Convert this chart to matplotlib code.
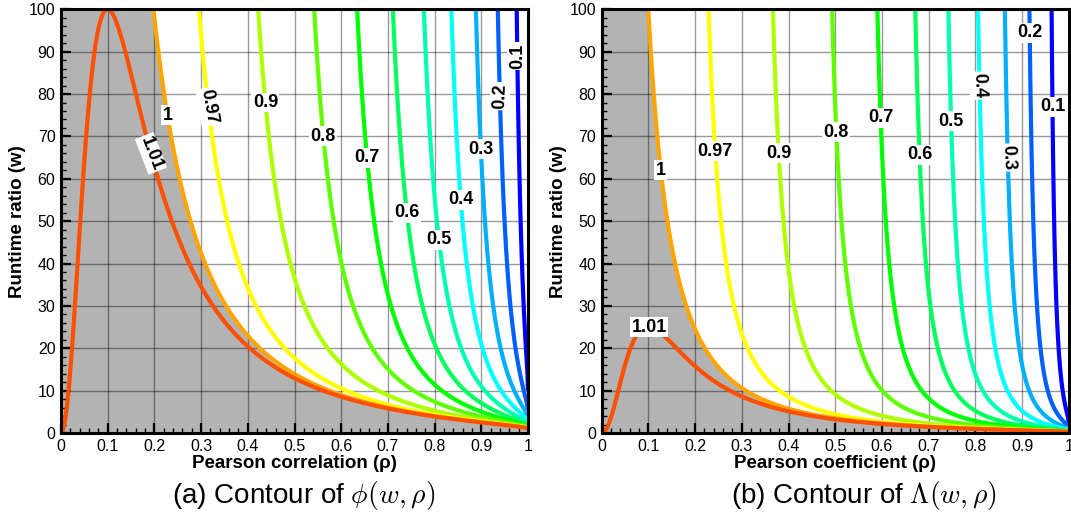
import numpy as np
import matplotlib
matplotlib.use("Agg")
import matplotlib.pyplot as plt
from matplotlib.ticker import MultipleLocator, FuncFormatter

plt.rcParams['font.family'] = ['Liberation Sans', 'DejaVu Sans']
plt.rcParams['mathtext.fontset'] = 'cm'

# contour levels and their colours
levels = [0.1, 0.2, 0.3, 0.4, 0.5, 0.6, 0.7, 0.8, 0.9, 0.97, 1.0, 1.01]
level_colors = ['#0000ff', '#0060ff', '#00b0ff', '#00ffff', '#00ffb0', '#00ff60',
                '#00ff00', '#60ff00', '#b0ff00', '#ffff00', '#ffa500', '#ff5000']

rho_lim = (0.0, 1.0)
w_lim = (0.0, 100.0)

# label anchors: level -> (approx rho, w, rotation)
labels_a = {1.01: (0.194, 66, -69), 1.0: (0.225, 75, 0), 0.97: (0.315, 77, -80),
            0.9: (0.44, 78, 0), 0.8: (0.565, 70, 0), 0.7: (0.656, 65, 0),
            0.6: (0.737, 52, 0), 0.5: (0.805, 45.6, 0), 0.4: (0.86, 55, 0),
            0.3: (0.903, 67, 0), 0.2: (0.94, 79.5, 88), 0.1: (0.972, 89, 90)}
labels_b = {1.01: (0.102, 25, 0), 1.0: (0.132, 62, 0), 0.97: (0.242, 66.5, 0),
            0.9: (0.377, 66, 0), 0.8: (0.5, 71, 0), 0.7: (0.591, 74.4, 0),
            0.6: (0.68, 65.7, 0), 0.5: (0.746, 73.6, 0), 0.4: (0.806, 82, -88),
            0.3: (0.865, 65, -88), 0.2: (0.915, 94.5, 0), 0.1: (0.96, 77, 0)}


def phi(w, rho):
    return (np.sqrt(1 - rho**2) + rho / np.sqrt(w))**2


def lam(w, rho):
    return (np.sqrt(1 - rho**2) + rho / (2 * np.sqrt(w)))**2


rho = np.linspace(rho_lim[0], rho_lim[1], 1001)
w = np.concatenate([np.geomspace(1e-3, 5, 500, endpoint=False), np.linspace(5, w_lim[1], 800)])
R, W = np.meshgrid(rho, w)


def on_contour(func, level, r0, w0):
    # rho on the contour line at height w0, nearest to r0
    rr = np.linspace(0, 1, 20001)
    d = func(w0, rr) - level
    idx = np.where(np.sign(d[:-1]) != np.sign(d[1:]))[0]
    if len(idx) == 0:
        return r0, w0
    best = idx[np.argmin(np.abs(rr[idx] - r0))]
    return rr[best], w0


def draw_panel(ax, func, label_pos, xlabel):
    Z = func(W, R)
    ax.set_xlim(*rho_lim)
    ax.set_ylim(*w_lim)
    ax.contourf(R, W, Z, levels=[1.0, 1e9], colors=['#b3b3b3'], zorder=0.5)
    ax.contour(R, W, Z, levels=levels, colors=level_colors, linewidths=3.0, zorder=2)
    for lv in levels:
        r0, w0, rot = label_pos[lv]
        x, y = on_contour(func, lv, r0, w0)
        ax.text(x, y, f"{lv:g}", fontsize=13, fontweight='bold', color='black',
                ha='center', va='center', rotation=rot, rotation_mode='anchor', zorder=5,
                bbox=dict(boxstyle='square,pad=0.08', fc='white', ec='none'))

    ax.xaxis.set_major_locator(MultipleLocator(0.1))
    ax.xaxis.set_minor_locator(MultipleLocator(0.02))
    ax.yaxis.set_major_locator(MultipleLocator(10))
    ax.yaxis.set_minor_locator(MultipleLocator(2))
    ax.xaxis.set_major_formatter(FuncFormatter(lambda v, p: f"{v:g}"))
    ax.tick_params(which='major', direction='in', length=7, width=1.6, labelsize=11.5, pad=4)
    ax.tick_params(which='minor', direction='in', length=3.5, width=1.0)
    ax.grid(which='major', color='black', alpha=0.4, lw=1.0)
    for sp in ax.spines.values():
        sp.set_linewidth(2.2)
    ax.set_xlabel(xlabel, fontsize=13.5, fontweight='bold', labelpad=1)
    ax.set_ylabel('Runtime ratio (w)', fontsize=13.5, fontweight='bold', labelpad=2)


fig = plt.figure(figsize=(10.71, 5.20), dpi=100)
ax1 = fig.add_axes([61 / 1071, 1 - 433 / 520, 467 / 1071, 423.7 / 520])
ax2 = fig.add_axes([601.7 / 1071, 1 - 433 / 520, 467 / 1071, 423.7 / 520])

draw_panel(ax1, phi, labels_a, 'Pearson correlation (ρ)')
draw_panel(ax2, lam, labels_b, 'Pearson coefficient (ρ)')

fig.text(0.283, 0.032, r'(a) Contour of $\phi(w,\rho)$', ha='center', va='baseline', fontsize=20)
fig.text(0.807, 0.032, r'(b) Contour of $\Lambda(w,\rho)$', ha='center', va='baseline', fontsize=20)

fig.savefig('out.png', dpi=100)
